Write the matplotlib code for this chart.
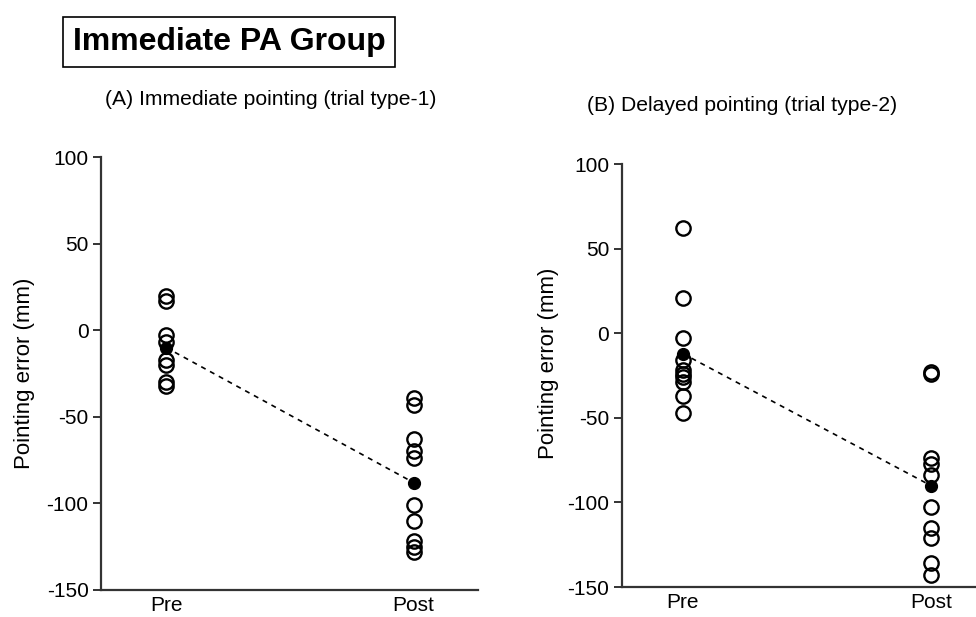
import numpy as np
import matplotlib.pyplot as plt

plt.rcParams['font.family'] = ['Liberation Sans', 'DejaVu Sans']

conditions = ['Pre', 'Post']

# panel A: immediate pointing (trial type-1)
a_pre = [20, 17, -3, -7, -17, -20, -30, -32]
a_post = [-39, -43, -63, -70, -74, -101, -110, -122, -125, -128]
a_mean = [-10, -88]

# panel B: delayed pointing (trial type-2)
b_pre = [62, 21, -3, -16, -22, -24, -26, -29, -37, -47]
b_post = [-23, -24, -74, -77, -84, -103, -115, -121, -136, -143]
b_mean = [-12, -90]

yticks = [100, 50, 0, -50, -100, -150]


def draw_panel(ax, pre, post, mean, xlim, label_xy):
    for i, vals in enumerate([pre, post]):
        ax.plot(np.full(len(vals), i), vals, 'o', ms=10.3, mfc='none',
                mec='black', mew=1.7, ls='none', zorder=3)
    ax.plot([0, 1], mean, ls=(0, (3, 3)), color='black', lw=1.2, zorder=2)
    ax.plot([0, 1], mean, 'o', ms=8.5, color='black', ls='none', zorder=4)
    ax.set_xlim(xlim)
    ax.set_ylim(-150, 100)
    ax.set_yticks(yticks)
    ax.set_yticklabels([str(t) for t in yticks], fontsize=15)
    ax.set_xticks([0, 1])
    ax.set_xticklabels(conditions, fontsize=15)
    ax.tick_params(axis='x', length=0, pad=4)
    ax.tick_params(axis='y', direction='out', length=6, width=1.4, color='#333333', pad=3)
    ax.set_ylabel('Pointing error (mm)', fontsize=16)
    ax.yaxis.set_label_coords(*label_xy)
    for s in ['top', 'right']:
        ax.spines[s].set_visible(False)
    for s in ['left', 'bottom']:
        ax.spines[s].set_linewidth(1.6)
        ax.spines[s].set_color('#333333')
    ax.patch.set_visible(False)


fig = plt.figure(figsize=(9.76, 6.17), dpi=100)
ax1 = fig.add_axes([0.1035, 0.0438, 0.386, 0.7017])
ax2 = fig.add_axes([0.637, 0.0486, 0.37, 0.6855])
draw_panel(ax1, a_pre, a_post, a_mean, (-0.263, 1.259), (-0.175, 0.5))
draw_panel(ax2, b_pre, b_post, b_mean, (-0.246, 1.21), (-0.175, 0.53))
ax2.spines['bottom'].set_bounds(-0.246, 1.3)

fig.text(0.277, 0.838, '(A) Immediate pointing (trial type-1)', ha='center', va='center', fontsize=15.2)
fig.text(0.76, 0.829, '(B) Delayed pointing (trial type-2)', ha='center', va='center', fontsize=15.2)

fig.text(0.235, 0.932, 'Immediate PA Group', ha='center', va='center', fontsize=23,
         fontweight='bold',
         bbox=dict(boxstyle='square,pad=0.3', fc='white', ec='black', lw=1.2))

fig.savefig('out.png', dpi=100)
